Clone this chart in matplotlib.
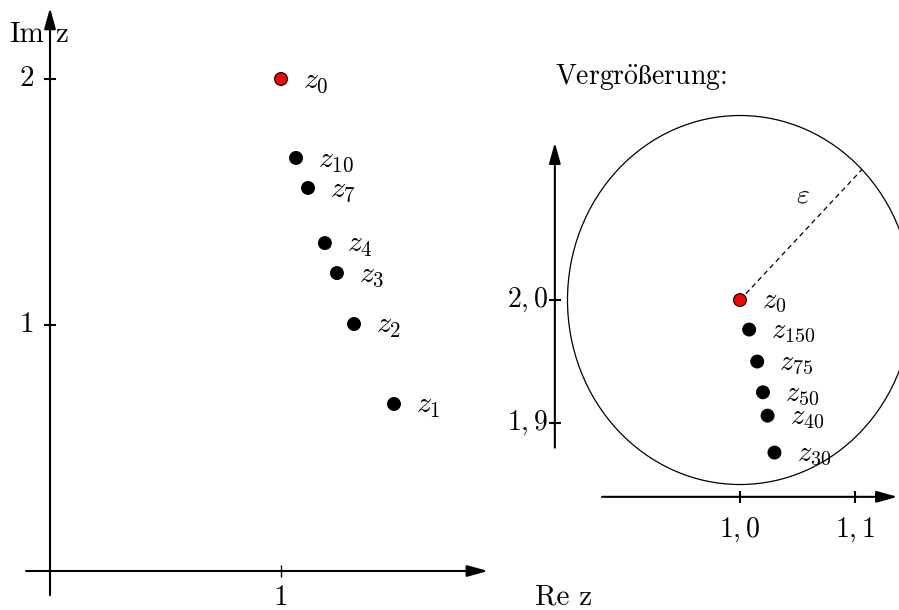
import numpy as np
import matplotlib
matplotlib.use('Agg')
import matplotlib.pyplot as plt
from matplotlib.patches import Circle

plt.rcParams['mathtext.fontset'] = 'cm'
plt.rcParams['font.family'] = ['cmr10', 'DejaVu Serif']
plt.rcParams['axes.unicode_minus'] = False

# overview: iterates z_n approaching z_0
left_re = [1.0, 1.489, 1.316, 1.242, 1.190, 1.117, 1.065]
left_im = [2.0, 0.679, 1.004, 1.211, 1.333, 1.557, 1.679]
left_labels = ['$z_0$', '$z_1$', '$z_2$', '$z_3$', '$z_4$', '$z_7$', '$z_{10}$']
left_xticks = [1]
left_yticks = [1, 2]

# magnified view near z_0
zoom_re = [1.0, 1.008, 1.015, 1.020, 1.024, 1.030]
zoom_im = [2.0, 1.976, 1.950, 1.925, 1.906, 1.876]
zoom_labels = ['$z_0$', '$z_{150}$', '$z_{75}$', '$z_{50}$', '$z_{40}$', '$z_{30}$']
zoom_xticks = [1.0, 1.1]
zoom_yticks = [2.0, 1.9]
zoom_xticklabels = ['$1,0$', '$1,1$']
zoom_yticklabels = ['$2,0$', '$1,9$']
eps = 0.15

FS = 20
ARROW = dict(arrowstyle='-|>,head_length=0.9,head_width=0.25', lw=1.5, color='k',
             mutation_scale=14, shrinkA=0, shrinkB=0)


def axis_arrow(ax, start, end):
    ax.annotate('', xy=end, xytext=start, arrowprops=ARROW, annotation_clip=False)


def draw_points(ax, re, im, labels, size):
    colors = ['red'] + ['black'] * (len(re) - 1)
    ax.scatter(re, im, s=85, c=colors, edgecolors='black', linewidths=0.8, zorder=3, clip_on=False)
    for x, y, lab in zip(re, im, labels):
        ax.annotate(lab, (x, y), xytext=(16, -1.5), textcoords='offset points',
                    fontsize=size, ha='left', va='center', annotation_clip=False)


fig = plt.figure(figsize=(8.99, 6.10), dpi=100)

# left panel
ax1 = fig.add_axes([0, 0, 520 / 899, 1])
ax1.set_xlim(-0.2165, 2.0346)
ax1.set_ylim(-0.1585, 2.321)
ax1.axis('off')
axis_arrow(ax1, (-0.104, 0), (1.896, 0))
axis_arrow(ax1, (0, -0.098), (0, 2.289))
ax1.plot(left_xticks, [0] * len(left_xticks), ls='none', marker='|', ms=9, mew=1.0, color='k')
ax1.plot([0] * len(left_yticks), left_yticks, ls='none', marker='_', ms=9, mew=1.5, color='k')
for t in left_xticks:
    ax1.text(t, -0.057, str(t), fontsize=21, ha='center', va='top')
for t in left_yticks:
    ax1.text(-0.068, t, str(t), fontsize=21, ha='right', va='center')
ax1.text(-0.028, 2.18, 'Im', fontsize=21, ha='right', va='center')
ax1.text(0.022, 2.18, 'z', fontsize=21, ha='left', va='center')
ax1.text(2.1, -0.106, 'Re z', fontsize=21, ha='left', va='center')
draw_points(ax1, left_re, left_im, left_labels, 21.5)

# right panel (magnification)
ax2 = fig.add_axes([520 / 899, 0, 379 / 899, 1])
ax2.set_xlim(0.8087, 1.1383)
ax2.set_ylim(1.748, 2.2439)
ax2.axis('off')
axis_arrow(ax2, (0.88, 1.84), (1.137, 1.84))
axis_arrow(ax2, (0.839, 1.880), (0.839, 2.128))
ax2.plot(zoom_xticks, [1.84] * len(zoom_xticks), ls='none', marker='|', ms=9, mew=1.5, color='k')
ax2.plot([0.839] * len(zoom_yticks), zoom_yticks, ls='none', marker='_', ms=9, mew=1.5, color='k')
for t, lab in zip(zoom_xticks, zoom_xticklabels):
    ax2.text(t, 1.825, lab, fontsize=FS, ha='center', va='top')
for t, lab in zip(zoom_yticks, zoom_yticklabels):
    ax2.text(0.833, t, lab, fontsize=FS, ha='right', va='center')

ax2.add_patch(Circle((zoom_re[0], zoom_im[0]), eps, fill=False, lw=0.9, color='k', clip_on=False))
ang = np.deg2rad(45)
ax2.plot([zoom_re[0], zoom_re[0] + eps * np.cos(ang)], [zoom_im[0], zoom_im[0] + eps * np.sin(ang)],
         color='k', lw=0.9, dashes=(4, 3))
ax2.text(1.055, 2.085, r'$\varepsilon$', fontsize=FS, ha='center', va='center')
ax2.text(0.839, 2.181, r'$\mathrm{Vergr\ddot{o}\ss erung}$:', fontsize=FS, ha='left', va='center')
draw_points(ax2, zoom_re, zoom_im, zoom_labels, 20.5)

fig.savefig('out.png', dpi=100)
